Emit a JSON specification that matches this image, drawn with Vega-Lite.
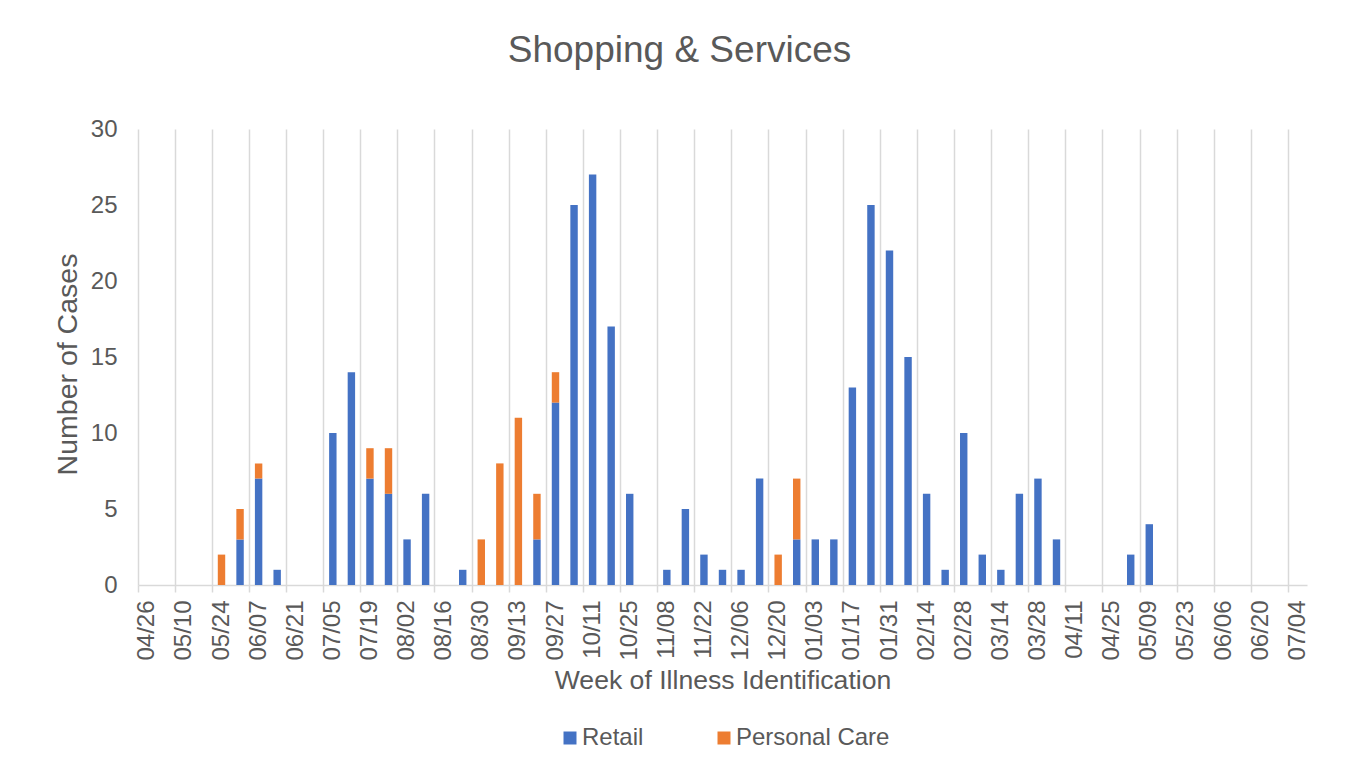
{
  "$schema": "https://vega.github.io/schema/vega-lite/v6.json",
  "autosize": {"type": "none"},
  "padding": {"left": 138, "top": 129, "right": 47, "bottom": 187},
  "width": 1169,
  "height": 456,
  "background": "white",
  "title": {
    "text": "Shopping & Services",
    "fontSize": 37,
    "font": "Liberation Sans",
    "fontWeight": "normal",
    "color": "#595959",
    "anchor": "middle",
    "frame": "group",
    "dx": -43,
    "offset": 47
  },
  "data": {
    "values": [
      {"week": "05/24", "type": "Personal Care", "cases": 2},
      {"week": "05/31", "type": "Retail", "cases": 3},
      {"week": "05/31", "type": "Personal Care", "cases": 2},
      {"week": "06/07", "type": "Retail", "cases": 7},
      {"week": "06/07", "type": "Personal Care", "cases": 1},
      {"week": "06/14", "type": "Retail", "cases": 1},
      {"week": "07/05", "type": "Retail", "cases": 10},
      {"week": "07/12", "type": "Retail", "cases": 14},
      {"week": "07/19", "type": "Retail", "cases": 7},
      {"week": "07/19", "type": "Personal Care", "cases": 2},
      {"week": "07/26", "type": "Retail", "cases": 6},
      {"week": "07/26", "type": "Personal Care", "cases": 3},
      {"week": "08/02", "type": "Retail", "cases": 3},
      {"week": "08/09", "type": "Retail", "cases": 6},
      {"week": "08/23", "type": "Retail", "cases": 1},
      {"week": "08/30", "type": "Personal Care", "cases": 3},
      {"week": "09/06", "type": "Personal Care", "cases": 8},
      {"week": "09/13", "type": "Personal Care", "cases": 11},
      {"week": "09/20", "type": "Retail", "cases": 3},
      {"week": "09/20", "type": "Personal Care", "cases": 3},
      {"week": "09/27", "type": "Retail", "cases": 12},
      {"week": "09/27", "type": "Personal Care", "cases": 2},
      {"week": "10/04", "type": "Retail", "cases": 25},
      {"week": "10/11", "type": "Retail", "cases": 27},
      {"week": "10/18", "type": "Retail", "cases": 17},
      {"week": "10/25", "type": "Retail", "cases": 6},
      {"week": "11/08", "type": "Retail", "cases": 1},
      {"week": "11/15", "type": "Retail", "cases": 5},
      {"week": "11/22", "type": "Retail", "cases": 2},
      {"week": "11/29", "type": "Retail", "cases": 1},
      {"week": "12/06", "type": "Retail", "cases": 1},
      {"week": "12/13", "type": "Retail", "cases": 7},
      {"week": "12/20", "type": "Personal Care", "cases": 2},
      {"week": "12/27", "type": "Retail", "cases": 3},
      {"week": "12/27", "type": "Personal Care", "cases": 4},
      {"week": "01/03", "type": "Retail", "cases": 3},
      {"week": "01/10", "type": "Retail", "cases": 3},
      {"week": "01/17", "type": "Retail", "cases": 13},
      {"week": "01/24", "type": "Retail", "cases": 25},
      {"week": "01/31", "type": "Retail", "cases": 22},
      {"week": "02/07", "type": "Retail", "cases": 15},
      {"week": "02/14", "type": "Retail", "cases": 6},
      {"week": "02/21", "type": "Retail", "cases": 1},
      {"week": "02/28", "type": "Retail", "cases": 10},
      {"week": "03/07", "type": "Retail", "cases": 2},
      {"week": "03/14", "type": "Retail", "cases": 1},
      {"week": "03/21", "type": "Retail", "cases": 6},
      {"week": "03/28", "type": "Retail", "cases": 7},
      {"week": "04/04", "type": "Retail", "cases": 3},
      {"week": "05/02", "type": "Retail", "cases": 2},
      {"week": "05/09", "type": "Retail", "cases": 4}
    ]
  },
  "mark": {"type": "bar", "width": {"band": 0.4}},
  "encoding": {
    "x": {
      "field": "week",
      "type": "ordinal",
      "scale": {
        "domain": ["04/26","05/03","05/10","05/17","05/24","05/31","06/07","06/14","06/21","06/28","07/05","07/12","07/19","07/26","08/02","08/09","08/16","08/23","08/30","09/06","09/13","09/20","09/27","10/04","10/11","10/18","10/25","11/01","11/08","11/15","11/22","11/29","12/06","12/13","12/20","12/27","01/03","01/10","01/17","01/24","01/31","02/07","02/14","02/21","02/28","03/07","03/14","03/21","03/28","04/04","04/11","04/18","04/25","05/02","05/09","05/16","05/23","05/30","06/06","06/13","06/20","06/27","07/04"],
        "paddingInner": 0,
        "paddingOuter": 0
      },
      "axis": {
        "title": "Week of Illness Identification",
        "values": ["04/26","05/10","05/24","06/07","06/21","07/05","07/19","08/02","08/16","08/30","09/13","09/27","10/11","10/25","11/08","11/22","12/06","12/20","01/03","01/17","01/31","02/14","02/28","03/14","03/28","04/11","04/25","05/09","05/23","06/06","06/20","07/04"],
        "bandPosition": 0,
        "grid": true,
        "gridColor": "#d9d9d9",
        "gridWidth": 1.5,
        "domainColor": "#d9d9d9",
        "domainWidth": 1.5,
        "tickColor": "#d9d9d9",
        "tickWidth": 1.5,
        "tickSize": 7,
        "labelAngle": -90,
        "labelFontSize": 24,
        "labelFont": "Liberation Sans",
        "labelColor": "#595959",
        "labelPadding": 8,
        "titleFontSize": 26.6,
        "titleFont": "Liberation Sans",
        "titleFontWeight": "normal",
        "titleColor": "#595959",
        "titlePadding": 7
      }
    },
    "y": {
      "field": "cases",
      "type": "quantitative",
      "stack": "zero",
      "scale": {"domain": [0, 30], "nice": false},
      "axis": {
        "title": "Number of Cases",
        "values": [0, 5, 10, 15, 20, 25, 30],
        "grid": false,
        "domain": false,
        "ticks": false,
        "tickSize": 0,
        "labelFontSize": 24,
        "labelFont": "Liberation Sans",
        "labelColor": "#595959",
        "labelPadding": 21,
        "titleFontSize": 28.5,
        "titleFont": "Liberation Sans",
        "titleFontWeight": "normal",
        "titleColor": "#595959",
        "titlePadding": 8,
        "titleY": 235
      }
    },
    "color": {
      "field": "type",
      "type": "nominal",
      "sort": ["Retail", "Personal Care"],
      "scale": {"domain": ["Retail", "Personal Care"], "range": ["#4472C4", "#ED7D31"]},
      "legend": {
        "title": null,
        "orient": "none",
        "direction": "horizontal",
        "legendX": 420,
        "legendY": 597,
        "symbolType": "square",
        "symbolSize": 169,
        "symbolStrokeWidth": 0,
        "labelFontSize": 24,
        "labelFont": "Liberation Sans",
        "labelColor": "#595959",
        "labelOffset": 0,
        "columnPadding": 68
      }
    },
    "order": {"field": "type", "sort": "descending"}
  },
  "config": {"view": {"stroke": null}}
}
